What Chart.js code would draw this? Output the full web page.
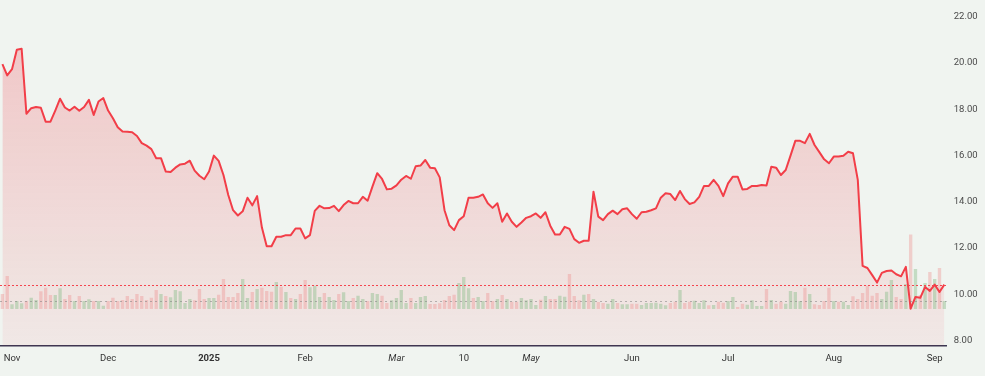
<!DOCTYPE html>
<html>
<head>
<meta charset="utf-8">
<script src="https://cdn.jsdelivr.net/npm/chart.js@4.4.1/dist/chart.umd.min.js"></script>
<style>
  html, body { margin: 0; padding: 0; background: #f0f4f0; }
  #wrap { width: 985px; height: 376px; }
</style>
</head>
<body>
<div id="wrap"><canvas id="chart"></canvas></div>
<script>
// Preços diários (fechamento)
const prices = [
  19.95, 19.46, 19.73, 20.57, 20.61, 17.80, 18.04, 18.09, 18.06, 17.46,
  17.46, 17.94, 18.45, 18.07, 17.94, 18.10, 17.93, 18.09, 18.40, 17.75,
  18.33, 18.48, 17.94, 17.61, 17.22, 17.03, 17.02, 17.00, 16.84, 16.53,
  16.42, 16.27, 15.88, 15.88, 15.30, 15.28, 15.47, 15.61, 15.64, 15.77,
  15.34, 15.12, 14.97, 15.30, 15.99, 15.76, 15.15, 14.29, 13.63, 13.40,
  13.58, 14.17, 13.84, 14.24, 12.88, 12.07, 12.07, 12.48, 12.48, 12.55,
  12.55, 12.84, 12.84, 12.41, 12.55, 13.60, 13.82, 13.71, 13.72, 13.82,
  13.59, 13.85, 14.03, 13.93, 13.93, 14.21, 14.04, 14.65, 15.23, 14.98,
  14.53, 14.56, 14.70, 14.95, 15.11, 14.99, 15.53, 15.56, 15.80, 15.47,
  15.44, 15.05, 13.63, 12.98, 12.77, 13.20, 13.37, 14.17, 14.17, 14.21,
  14.31, 13.93, 13.73, 13.93, 13.13, 13.49, 13.13, 12.91, 13.10, 13.30,
  13.37, 13.49, 13.30, 13.54, 12.96, 12.58, 12.58, 12.91, 12.82, 12.38,
  12.22, 12.31, 12.31, 14.43, 13.35, 13.20, 13.46, 13.61, 13.46, 13.67,
  13.71, 13.46, 13.26, 13.54, 13.56, 13.63, 13.71, 14.17, 14.36, 14.33,
  14.07, 14.46, 14.11, 13.90, 13.97, 14.21, 14.68, 14.68, 14.94, 14.68,
  14.24, 14.79, 15.08, 15.08, 14.53, 14.55, 14.68, 14.68, 14.72, 14.70,
  15.51, 15.47, 15.15, 15.37, 15.99, 16.63, 16.63, 16.53, 16.93, 16.45,
  16.14, 15.83, 15.66, 15.95, 15.95, 15.98, 16.16, 16.09, 14.94, 11.22,
  11.13, 10.82, 10.50, 10.92, 11.00, 11.02, 10.86, 10.77, 11.18, 9.37,
  9.88, 9.84, 10.31, 10.14, 10.41, 10.09, 10.41
];

// Volume relativo de cada pregão
const volumes = [
  15, 33, 4.7, 8, 5.7, 8, 11.3, 9, 17.7, 21.3,
  14, 14, 20.7, 10, 14, 8, 13, 8, 9.7, 8,
  8, 3.3, 8, 11.3, 8, 9, 13, 10, 15, 13,
  9, 11.3, 19, 15, 13, 11.7, 19, 17.7, 6, 10,
  8.7, 20, 10, 11, 11, 14.3, 30, 12, 12, 16,
  30, 11, 17, 20, 21.3, 18, 17.3, 27, 22.3, 17,
  11, 10, 15, 29, 21.7, 23.3, 12, 16, 12, 9,
  15, 16.7, 8, 11, 13.3, 10, 8, 16, 15, 13.3,
  6, 8.7, 11, 19, 6, 11, 6, 12, 13, 5,
  5, 5.7, 9, 13, 14.3, 26, 32, 20.7, 11, 12,
  8, 16, 8, 10, 14, 10, 7.3, 7.3, 11, 8.7,
  10, 4, 9.3, 13, 10, 10, 13.3, 12.3, 35, 13,
  8.7, 14.3, 15, 10, 7, 6, 5.3, 10, 6, 4.7,
  4.7, 5.3, 5.3, 4, 6, 6, 6.3, 5.3, 3.7, 6,
  7.3, 19, 6, 7.3, 8.3, 6, 8.7, 3.7, 4, 7.3,
  6.3, 8, 12, 2, 5.3, 4.3, 8.7, 3, 3, 20,
  9, 5.3, 7.3, 5.3, 18, 17, 8, 21.3, 15, 4.7,
  4, 8, 21.3, 8, 7.3, 7.3, 4, 12.7, 10, 16,
  23.3, 13.3, 16, 10, 17.3, 29, 12, 10, 25, 74.5,
  40, 14, 26, 37, 30, 41, 8
];

// u = pregão de alta, d = pregão de baixa
const volumeDir =
  'dduuuduudd' + 'duudduduud' + 'uudddddddd' + 'ddduduuuuu' + 'ddduuddddd' +
  'uududddudu' + 'dudduuuduu' + 'duuduuduud' + 'duuuuduuud' + 'ddddduuudu' +
  'uddududduu' + 'uududduudd' + 'dududduudu' + 'udduuuuuud' + 'dudduuudud' +
  'duudduuuud' + 'udduuuudud' + 'ddduduuddd' + 'ddduuuddud' + 'udududu';

// Rótulos do eixo X (posição no índice do pregão)
const tickIndex = [2, 22, 43, 63, 82, 96, 110, 131, 151, 173, 194];
const tickText = ['Nov', 'Dec', '2025', 'Feb', 'Mar', '10', 'May', 'Jun', 'Jul', 'Aug', 'Sep'];
const italicTicks = ['Mar', 'May'];
const boldTicks = ['2025'];

const lastPrice = 10.41;   // linha pontilhada vermelha
const volumeAvg = 8;       // linha pontilhada cinza

const days = prices.map((_, i) => i);
const labelAt = {};
tickIndex.forEach((idx, k) => { labelAt[idx] = tickText[k]; });

const refLines = {
    id: 'refLines',
    afterDatasetsDraw(chart) {
        const { ctx, chartArea: a, scales } = chart;
        ctx.save();
        ctx.lineWidth = 1;

        let y = Math.round(scales.vol.getPixelForValue(volumeAvg)) + 0.5;
        ctx.strokeStyle = 'rgba(130,130,130,0.55)';
        ctx.setLineDash([2, 3]);
        ctx.beginPath(); ctx.moveTo(a.left, y); ctx.lineTo(a.right, y); ctx.stroke();

        y = Math.round(scales.y.getPixelForValue(lastPrice)) + 0.5;
        ctx.strokeStyle = '#f5454f';
        ctx.setLineDash([2, 2]);
        ctx.beginPath(); ctx.moveTo(a.left, y); ctx.lineTo(a.right, y); ctx.stroke();
        ctx.restore();
    }
};

const ctx = document.getElementById('chart').getContext('2d');
new Chart(ctx, {
    type: 'bar',
    data: {
        labels: days,
        datasets: [{
            type: 'line',
            label: 'Preço',
            data: prices,
            yAxisID: 'y',
            borderColor: '#f23e48',
            borderWidth: 2,
            borderJoinStyle: 'round',
            pointRadius: 0,
            tension: 0,
            fill: 'start',
            order: 0,
            backgroundColor(c) {
                const area = c.chart.chartArea;
                if (!area) return 'rgba(242,54,69,0.15)';
                const g = c.chart.ctx.createLinearGradient(0, area.top, 0, area.bottom);
                g.addColorStop(0, 'rgba(242,54,69,0.26)');
                g.addColorStop(1, 'rgba(242,54,69,0.06)');
                return g;
            }
        }, {
            type: 'bar',
            label: 'Volume',
            data: volumes,
            yAxisID: 'vol',
            backgroundColor: volumeDir.split('').map(d => d === 'u' ? 'rgba(140,190,140,0.45)' : 'rgba(240,120,120,0.3)'),
            barPercentage: 0.7,
            categoryPercentage: 1.0,
            order: 1
        }]
    },
    options: {
        responsive: true,
        maintainAspectRatio: false,
        animation: false,
        layout: { padding: 0 },
        plugins: {
            legend: { display: false },
            tooltip: { enabled: false },
            filler: { drawTime: 'beforeDatasetsDraw' }
        },
        scales: {
            x: {
                offset: true,
                grid: { display: false, drawTicks: false },
                border: { display: true, color: '#3a3550', width: 1.5 },
                ticks: {
                    autoSkip: false,
                    maxRotation: 0,
                    padding: 7,
                    color: '#333333',
                    font: c => {
                        const t = labelAt[c.index];
                        return {
                            family: 'Roboto',
                            size: 9.5,
                            weight: boldTicks.includes(t) ? 'bold' : 'normal',
                            style: italicTicks.includes(t) ? 'italic' : 'normal'
                        };
                    },
                    callback: (v, i) => labelAt[i] ?? ''
                },
                afterFit: s => { s.height = 30.3; s.paddingLeft = 0; s.paddingRight = 0; }
            },
            y: {
                position: 'right',
                min: 7.77,
                max: 22.72,
                grid: { display: false, drawTicks: false },
                border: { display: false },
                ticks: {
                    stepSize: 2,
                    includeBounds: false,
                    padding: 7,
                    color: '#4a4a4a',
                    font: { family: 'Roboto', size: 9.5 },
                    callback: v => v.toFixed(2)
                },
                afterFit: s => { s.width = 38.3; s.paddingTop = 0; s.paddingBottom = 0; }
            },
            vol: {
                position: 'left',
                display: false,
                min: -36.7,
                max: 309
            }
        }
    },
    plugins: [refLines]
});
</script>
</body>
</html>
